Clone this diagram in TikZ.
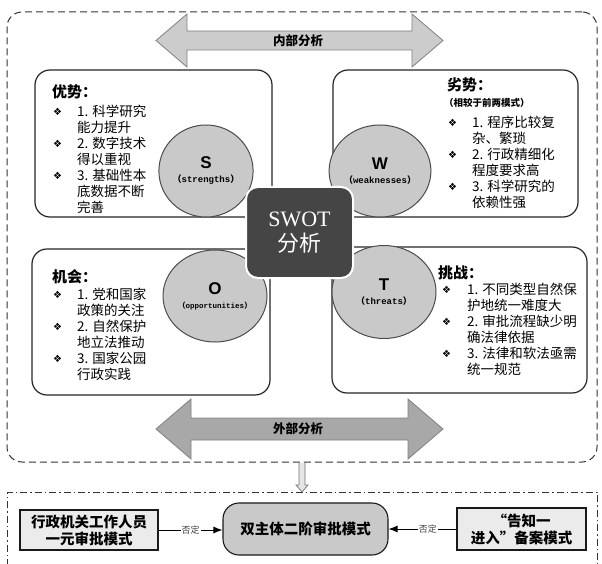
\documentclass[tikz,border=0pt]{standalone}
\usepackage{fontspec}
\setmainfont{Liberation Serif}
\newfontfamily\cjk{Noto Sans CJK SC}
\newfontfamily\dingf{DejaVu Sans}
\newfontfamily\monof{Liberation Mono}
\newfontfamily\sansf{Liberation Sans}
\usetikzlibrary{arrows.meta,shapes.geometric}
\newcommand\bulw[1]{\makebox[#1][l]{\raisebox{0.5pt}{\dingf\fontsize{10}{10}\selectfont ❖}}}
\newcommand\fw[1]{{\cjk #1}}
\begin{document}
\begin{tikzpicture}[x=1pt,y=-1pt,
  quad/.style={draw=black!85, line width=1.2pt, rounded corners=15pt, fill=white, inner sep=0pt},
  ell/.style={ellipse, draw=black!70, line width=1pt, fill=black!21, inner sep=0pt, align=center},
  head/.style={anchor=west, inner sep=0pt, font=\cjk\bfseries\fontsize{15}{15}\selectfont},
  lst/.style={anchor=north west, inner sep=0pt, font=\cjk\fontsize{13.5}{15.5}\selectfont},
  bigarrow/.style={draw=black!50, line width=0.8pt},
  arrlbl/.style={inner sep=0pt, font=\cjk\bfseries\fontsize{12.5}{13}\selectfont},
  bbox/.style={draw=black!90, line width=1.1pt, fill=black!8, inner sep=0pt, align=center, font=\cjk\bfseries\fontsize{14.5}{17}\selectfont},
  neg/.style={fill=white, inner sep=1pt, font=\cjk\fontsize{9}{9}\selectfont, text=black!75},
  conn/.style={line width=0.9pt, -{Latex[length=9pt,width=7pt]}},
  mono/.style={}
]
\useasboundingbox (0,0) rectangle (602,564);

% outer dashed frame
\node[draw=black!80, line width=1pt, dash pattern=on 7pt off 4pt, rounded corners=15pt,
      minimum width=590pt, minimum height=450pt, inner sep=0pt] (outer) at (302,237) {};

% big double arrows
\draw[bigarrow, fill=black!20] (156,40.5) -- (187,14) -- (187,31) -- (412,31) -- (412,14) -- (443,40.5)
   -- (412,67) -- (412,50) -- (187,50) -- (187,67) -- cycle;
\node[arrlbl] (intern) at (298,41) {内部分析};
\draw[bigarrow, fill=black!34] (156,429) -- (191,399) -- (191,418) -- (408,418) -- (408,399) -- (443,429)
   -- (408,459) -- (408,440) -- (191,440) -- (191,459) -- cycle;
\node[arrlbl] (extern) at (298,429) {外部分析};

% quadrant boxes
\node[quad, minimum width=237pt, minimum height=147pt] (Sbox) at (153.5,143.5) {};
\node[quad, minimum width=245pt, minimum height=147pt] (Wbox) at (455.5,143.5) {};
\node[quad, minimum width=238pt, minimum height=146pt] (Obox) at (151,322) {};
\node[quad, minimum width=255pt, minimum height=146pt] (Tbox) at (459.5,320) {};

% ellipses
\node[ell, minimum width=86pt, minimum height=92pt] (Sell) at (206,171)
  {{\sansf\bfseries\fontsize{17}{17}\selectfont S}\\[2pt]{\monof\bfseries\fontsize{9}{9}\selectfont\fw{（}strengths\fw{）}}};
\node[ell, minimum width=95pt, minimum height=92pt] (Well) at (380,171)
  {{\sansf\bfseries\fontsize{17}{17}\selectfont W}\\[2pt]{\monof\bfseries\fontsize{9}{9}\selectfont\fw{（}weaknesses\fw{）}}};
\node[ell, minimum width=104pt, minimum height=92pt] (Oell) at (215,296)
  {{\sansf\bfseries\fontsize{17}{17}\selectfont O}\\[2pt]{\monof\bfseries\fontsize{7.5}{8}\selectfont\fw{（}opportunities\fw{）}}};
\node[ell, minimum width=104pt, minimum height=93pt] (Tell) at (384,292)
  {{\sansf\bfseries\fontsize{17}{17}\selectfont T}\\[2pt]{\monof\bfseries\fontsize{9}{9}\selectfont\fw{（}threats\fw{）}}};

% centre SWOT box
\node[draw=white, line width=2pt, fill=black!73, rounded corners=12pt, minimum width=107pt,
      minimum height=91pt, inner sep=0pt, align=center, text=white] (swot) at (299.5,232.5)
  {{\fontsize{22}{22}\selectfont SWOT}\\[5pt]{\cjk\fontsize{22}{22}\selectfont 分析}};

% S text
\node[head] (Shead) at (52,92) {优势：};
\node[lst] (Slist) at (53,104.5) {\begin{tabular}{@{}l@{}l@{}}
\bulw{24pt} & 1. 科学研究\\ & 能力提升\\
\bulw{24pt} & 2. 数字技术\\ & 得以重视\\
\bulw{24pt} & 3. 基础性本\\ & 底数据不断\\ & 完善
\end{tabular}};

% W text
\node[head] (Whead) at (447,85) {劣势：};
\node[anchor=west, inner sep=0pt, font=\cjk\bfseries\fontsize{9.5}{10}\selectfont] (Wnote) at (444,103) {（相较于前两模式）};
\node[lst] (Wlist) at (448,115.5) {\begin{tabular}{@{}l@{}l@{}}
\bulw{24pt} & 1. 程序比较复\\ & 杂、繁琐\\
\bulw{24pt} & 2. 行政精细化\\ & 程度要求高\\
\bulw{24pt} & 3. 科学研究的\\ & 依赖性强
\end{tabular}};

% O text
\node[head] (Ohead) at (52,277) {机会：};
\node[lst] (Olist) at (53,287.5) {\begin{tabular}{@{}l@{}l@{}}
\bulw{24pt} & 1. 党和国家\\ & 政策的关注\\
\bulw{24pt} & 2. 自然保护\\ & 地立法推动\\
\bulw{24pt} & 3. 国家公园\\ & 行政实践
\end{tabular}};

% T text
\node[head] (Thead) at (438,273) {挑战：};
\node[lst] (Tlist) at (442,282.5) {\begin{tabular}{@{}l@{}l@{}}
\bulw{25pt} & 1. 不同类型自然保\\ & 护地统一难度大\\
\bulw{25pt} & 2. 审批流程缺少明\\ & 确法律依据\\
\bulw{25pt} & 3. 法律和软法亟需\\ & 统一规范
\end{tabular}};

% bottom dash-dot frame (bottom edge outside the picture)
\draw[draw=black!80, line width=1pt, dash pattern=on 7pt off 3pt on 1.5pt off 3pt]
  (7,566) -- (7,492) -- (597,492) -- (597,566);

% small hollow arrow
\coordinate (vtop) at (302,463);
\coordinate (vbot) at (302,492);
\draw[draw=black!55, fill=black!10, line width=0.7pt] (vtop) ++(-3,0) -- ++(0,22) -- ++(-3,0) -- (vbot) -- ++(6,-7) -- ++(-3,0) -- ++(0,-22);

% bottom boxes
\node[bbox, minimum width=138pt, minimum height=40pt] (left) at (89,530) {行政机关工作人员\\一元审批模式};
\node[bbox, fill=black!21, rounded corners=16pt, minimum width=165pt, minimum height=52pt] (mid) at (305.5,529) {双主体二阶审批模式};
\node[bbox, minimum width=129pt, minimum height=42pt] (right) at (521.5,529) {“告知一\\进入”备案模式};

\draw[conn] (left.east) -- node[neg, pos=0.5] {否定} (mid.west |- left.east);
\draw[conn] (right.west) -- node[neg, pos=0.42] {否定} (mid.east |- right.west);
\end{tikzpicture}
\end{document}
